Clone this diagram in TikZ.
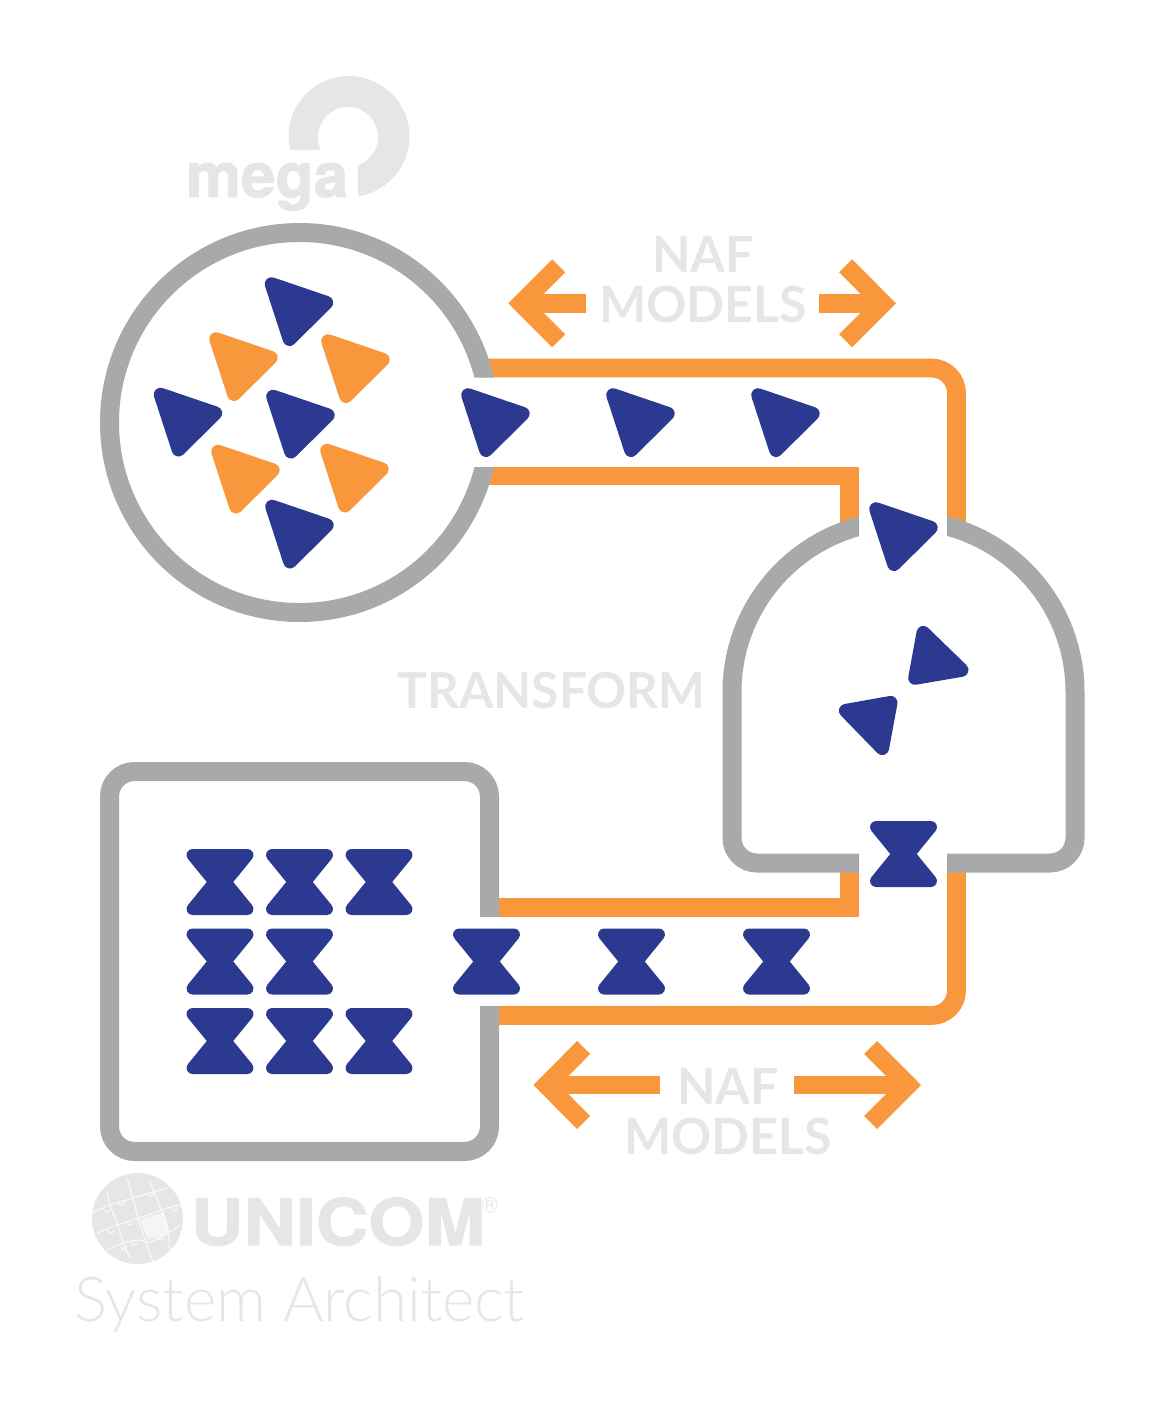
\documentclass[tikz,border=0pt]{standalone}
\usepackage{fontspec}
\setmainfont{Lato}
\newfontfamily\logofont[BoldFeatures={FakeBold=1.6}]{TeX Gyre Heros}
\newfontfamily\unicomfont[BoldFeatures={FakeBold=1.6,FakeStretch=1.135}]{TeX Gyre Heros}
\newfontfamily\lightfont{Lato Light}
\usetikzlibrary{positioning}
\definecolor{navy}{HTML}{2B3990}
\definecolor{pipeorange}{HTML}{F9973D}
\definecolor{wallgrey}{HTML}{A7A9AA}
\definecolor{logogrey}{HTML}{E6E6E6}
\tikzset{
  wall/.style={draw=wallgrey,line width=9.5pt},
  pipe/.style={draw=pipeorange,line width=9.4pt},
  corner/.style={rounded corners=12.5pt},
  fatarrow/.style={draw=pipeorange,line width=9.2pt,miter limit=4},
  solidtip/.style={line width=6.8pt,line join=round},
  seam/.style={white,line width=0.6pt,opacity=0.75},
  caption/.style={text=logogrey,font=\bfseries\fontsize{25}{25}\selectfont,anchor=base},
  tri/.pic={\filldraw[solidtip] (-27.5,-27.5) -- (27.4,-8.8) -- (-9.5,27.7) -- cycle;},
  glass/.pic={\filldraw[line width=6pt,line join=round] (-27.5,-27) -- (27.5,-27) -- (5.5,0) -- (27.5,27) -- (-27.5,27) -- (-5.5,0) -- cycle;},
}
% tip at #1, end of the barbs at #2, end of the shaft at #3, height #4
\newcommand{\nafarrow}[4]{
  \draw[fatarrow] (#3,#4) -- (#1,#4);
  \draw[fatarrow] (#2,#4-37.5) -- (#1,#4) -- (#2,#4+37.5);
}
\begin{document}
\begin{tikzpicture}[x=0.5pt,y=-0.5pt]
\useasboundingbox (0,0) rectangle (1159,1408);

% pipes go first, the walls lie on top of them
\draw[pipe,corner] (480,368) -- (956.5,368) -- (956.5,530);
\draw[pipe] (480,476) -- (849.5,476) -- (849.5,530);
\draw[pipe] (490,907.5) -- (849.5,907.5) -- (849.5,865);
\draw[pipe,corner] (490,1015.5) -- (956.5,1015.5) -- (956.5,865);

% circle
\begin{scope}
\clip (90,210) -- (510,210) -- (510,377.7) -- (400,377.7) -- (400,467) -- (510,467) -- (510,640) -- (90,640) -- cycle;
\draw[wall] (299.5,422.5) circle (190);
\end{scope}

% tank
\begin{scope}
\clip (700,480) rectangle (859,900) (947,480) rectangle (1100,900);
\draw[wall] (732,692) arc[start angle=180,end angle=360,radius=171.5] -- (1075,838) arc[start angle=0,end angle=90,radius=25] -- (757,863) arc[start angle=90,end angle=180,radius=25] -- cycle;
\end{scope}

% square
\begin{scope}
\clip (90,750) -- (510,750) -- (510,917) -- (400,917) -- (400,1006) -- (510,1006) -- (510,1170) -- (90,1170) -- cycle;
\draw[wall,corner] (109.5,771.5) rectangle (489.5,1151.5);
\end{scope}

% triangles
\foreach \tx/\ty in {299/311.5,188/422,300.5/424,299.5/534,495.5/422.5,640.5/422.5,785.5/422.5,903.5/536.5}
  \pic[navy] at (\tx,\ty) {tri};
\foreach \tx/\ty in {243.5/366.5,355.5/368.5,245.5/479,354.5/478}
  \pic[pipeorange] at (\tx,\ty) {tri};
\filldraw[navy,solidtip] (923.3,632.7) -- (961.7,670) -- (915,678) -- cycle;
\filldraw[navy,solidtip] (890.7,702.7) -- (845.7,710.7) -- (882.3,748.3) -- cycle;

% hourglasses
\foreach \gx in {220,299.5,379}
  \foreach \gy in {882,1041}
    \pic[navy] at (\gx,\gy) {glass};
\foreach \gx/\gy in {220/961.5,299.5/961.5,486.5/961.5,631.5/961.5,776.5/961.5,903.5/854}
  \pic[navy] at (\gx,\gy) {glass};

% arrows
\nafarrow{521.3}{558.7}{585.7}{303.3}
\nafarrow{883}{845.6}{819}{303.3}
\nafarrow{546.3}{583.7}{660.3}{1085}
\nafarrow{908}{870.6}{794}{1085}

% captions
\node[caption] (naftop) at (703,272) {NAF};
\node[caption] (modelstop) at (703,322) {MODELS};
\node[caption] (nafbottom) at (728,1104) {NAF};
\node[caption] (modelsbottom) at (728,1154) {MODELS};
\node[caption,font=\bfseries\fontsize{24.8}{25}\selectfont] (transform) at (551.5,708) {TRANSFORM};

% mega logo
\begin{scope}
\clip (280,70) rectangle (420,150) (358,150) rectangle (420,200);
\fill[logogrey,even odd rule] (349,136.5) circle (60.5) (348,137) circle (30);
\end{scope}
\node[text=logogrey,anchor=base,font=\logofont\bfseries\fontsize{31}{31}\selectfont] (mega) at (267,197) {mega};

% unicom logo
\fill[logogrey] (137.5,1218.5) circle (45.5);
\begin{scope}
\clip (137.5,1218.5) circle (45.5);
\fill[white,opacity=0.6] (140,1220) -- (164,1212) -- (170,1233) -- (148,1240) -- cycle;
\draw[seam] plot[smooth] coordinates {(93,1212) (110,1205) (133,1198) (170,1187)};
\draw[seam] plot[smooth] coordinates {(97,1233) (117,1225) (140,1218) (167,1208) (182,1205)};
\draw[seam] plot[smooth] coordinates {(103,1252) (123,1243) (140,1240) (150,1242) (170,1232) (180,1225)};
\draw[seam] plot[smooth] coordinates {(127,1178) (133,1198) (138,1218) (147,1245) (153,1262)};
\draw[seam] plot[smooth] coordinates {(107,1192) (110,1205) (118,1225) (123,1243) (130,1258)};
\draw[seam] plot[smooth] coordinates {(150,1182) (162,1212) (168,1232) (170,1252)};
% tabs of the puzzle pieces
\foreach \sx/\sy in {118/1202,148/1193,104/1209,127/1222,152/1214,108/1230,131/1242,158/1237,121/1247,172/1208}
  \draw[seam] (\sx,\sy) arc[start angle=180,end angle=0,radius=3];
\end{scope}
\node[text=logogrey,anchor=base,font=\unicomfont\bfseries\fontsize{32}{32}\selectfont] (unicom) at (338,1245) {UNICOM};
\node[text=logogrey,anchor=center,font=\logofont\fontsize{11}{11}\selectfont] (registered) at (490,1205) {®};
\node[text=logogrey,anchor=base,font=\lightfont\fontsize{31}{31}\selectfont] (sysarch) at (299.5,1321) {System Architect};
\end{tikzpicture}
\end{document}
